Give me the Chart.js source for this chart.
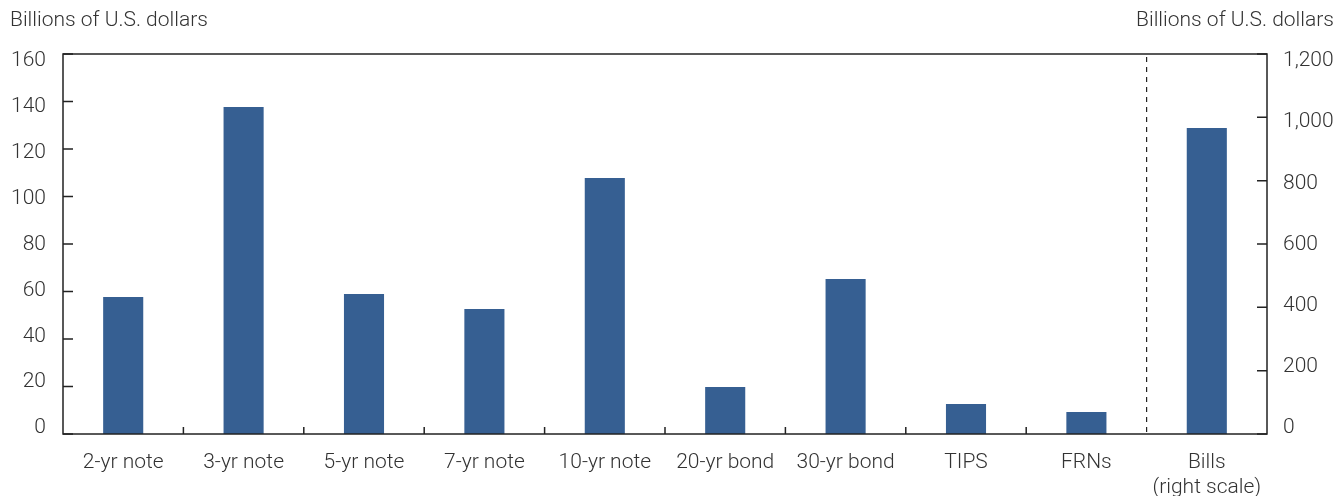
<!DOCTYPE html>
<html>
<head>
<meta charset="utf-8">
<script src="https://cdn.jsdelivr.net/npm/chart.js@4/dist/chart.umd.min.js"></script>
<style>
  body { margin: 0; background: #fff; }
  #wrap { width: 1338px; height: 496px; }
</style>
</head>
<body>
<div id="wrap"><canvas id="chart" width="1338" height="496"></canvas></div>
<script>
var categories = ['2-yr note', '3-yr note', '5-yr note', '7-yr note', '10-yr note',
    '20-yr bond', '30-yr bond', 'TIPS', 'FRNs', ['Bills', '(right scale)']];
// left scale (billions)
var noteValues = [57.7, 137.7, 59.0, 52.6, 107.8, 19.8, 65.3, 12.6, 9.3, null];
// right scale (billions)
var billValues = [null, null, null, null, null, null, null, null, null, 966];
var leftTicks = [0, 20, 40, 60, 80, 100, 120, 140, 160];
var rightTicks = [0, 200, 400, 600, 800, 1000, 1200];
var unitLabel = 'Billions of U.S. dollars';

var barColor = '#365f92';
var ink = '#222';
var textColor = '#333';
var fontFamily = 'Roboto, "Noto Sans", sans-serif';
var fontSize = 21;

var frame = {
    id: 'frame',
    afterDraw: function (chart) {
        var c = chart.ctx, a = chart.chartArea;
        var x = chart.scales.x, y = chart.scales.y, y2 = chart.scales.y2;
        c.save();
        c.strokeStyle = ink;
        c.lineWidth = 1.5;
        c.strokeRect(a.left, a.top, a.right - a.left, a.bottom - a.top);

        // inward ticks, left and right
        c.beginPath();
        leftTicks.forEach(function (v) {
            var py = y.getPixelForValue(v);
            c.moveTo(a.left, py); c.lineTo(a.left + 10, py);
        });
        rightTicks.forEach(function (v) {
            var py = y2.getPixelForValue(v);
            c.moveTo(a.right, py); c.lineTo(a.right - 10, py);
        });
        // category separators on the bottom
        for (var i = 0; i < categories.length - 2; i++) {
            var px = (x.getPixelForValue(i) + x.getPixelForValue(i + 1)) / 2;
            c.moveTo(px, a.bottom); c.lineTo(px, a.bottom - 7);
        }
        c.stroke();

        // dashed split before Bills
        var n = categories.length;
        var sx = (x.getPixelForValue(n - 2) + x.getPixelForValue(n - 1)) / 2;
        c.setLineDash([5, 5]);
        c.lineWidth = 1.2;
        c.beginPath();
        c.moveTo(sx, a.top + 3); c.lineTo(sx, a.bottom);
        c.stroke();
        c.setLineDash([]);

        // tick labels (spread slightly inside the axis span, as in the source)
        c.fillStyle = textColor;
        c.font = '300 ' + fontSize + 'px ' + fontFamily;
        c.textBaseline = 'middle';
        var squeeze = function (py) {
            var t0 = a.top + 7, t1 = a.bottom - 6;
            return t0 + (py - a.top) * (t1 - t0) / (a.bottom - a.top);
        };
        c.textAlign = 'right';
        leftTicks.forEach(function (v) {
            c.fillText(String(v), 46, squeeze(y.getPixelForValue(v)));
        });
        c.textAlign = 'left';
        rightTicks.forEach(function (v) {
            c.fillText(v.toLocaleString('en-US'), a.right + 16, squeeze(y2.getPixelForValue(v)));
        });

        // unit labels
        c.textAlign = 'left';
        c.fillText(unitLabel, 10, 21);
        c.textAlign = 'right';
        c.fillText(unitLabel, 1334, 21);
        c.restore();
    }
};

new Chart(document.getElementById('chart'), {
    type: 'bar',
    data: {
        labels: categories,
        datasets: [{
            data: noteValues,
            yAxisID: 'y',
            backgroundColor: barColor
        }, {
            data: billValues,
            yAxisID: 'y2',
            backgroundColor: barColor
        }]
    },
    options: {
        responsive: false,
        animation: false,
        grouped: false,
        barPercentage: 0.333,
        categoryPercentage: 1,
        layout: { padding: { top: 54, left: 0, right: 0, bottom: 0 } },
        plugins: { legend: { display: false }, tooltip: { enabled: false } },
        scales: {
            x: {
                offset: true,
                grid: { display: false },
                border: { display: false },
                ticks: {
                    color: textColor,
                    padding: 8,
                    maxRotation: 0,
                    autoSkip: false,
                    font: { family: fontFamily, size: fontSize, weight: '300', lineHeight: 25 / 21 }
                },
                afterFit: function (s) { s.height = 62; }
            },
            y: {
                position: 'left',
                min: 0, max: 160,
                ticks: { display: false, stepSize: 20 },
                grid: { display: false },
                border: { display: false },
                afterFit: function (s) { s.width = 63; }
            },
            y2: {
                position: 'right',
                min: 0, max: 1200,
                ticks: { display: false, stepSize: 200 },
                grid: { display: false },
                border: { display: false },
                afterFit: function (s) { s.width = 71; }
            }
        }
    },
    plugins: [frame]
});
</script>
</body>
</html>
